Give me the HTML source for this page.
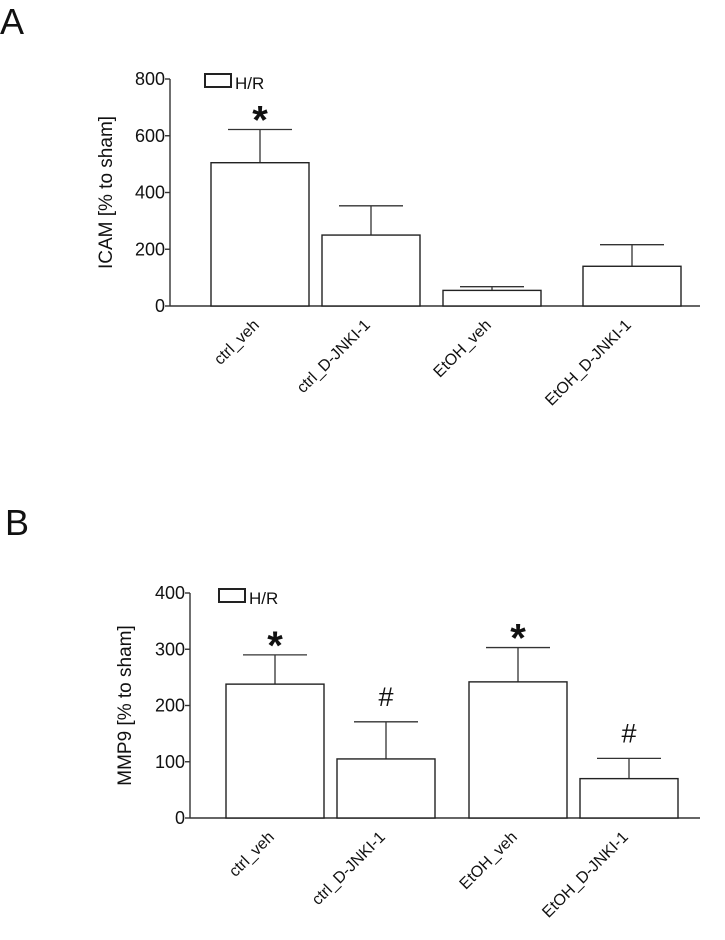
<!DOCTYPE html>
<html><head><meta charset="utf-8"><style>
body{margin:0;background:#fff;width:725px;height:935px;overflow:hidden}
svg text{font-family:"Liberation Sans",Arial,sans-serif;fill:#111}
</style></head><body>
<svg id="svg" width="725" height="935" xmlns="http://www.w3.org/2000/svg">
<text x="0" y="34" font-size="36">A</text>
<text x="5" y="535" font-size="36">B</text>
</svg>
<script>
const categories = ["ctrl_veh","ctrl_D-JNKI-1","EtOH_veh","EtOH_D-JNKI-1"];
const icamValues = [505, 250, 55, 140];
const icamErrors = [117, 103, 13, 76];
const icamMarks = ["*", "", "", ""];
const icamTicks = [0, 200, 400, 600, 800];
const mmpValues = [238, 105, 242, 70];
const mmpErrors = [52, 66, 61, 36];
const mmpMarks = ["*", "#", "*", "#"];
const mmpTicks = [0, 100, 200, 300, 400];

const NS = "http://www.w3.org/2000/svg";
const svg = document.getElementById('svg');
function mk(tag, attrs, parent){const e=document.createElementNS(NS,tag);for(const k in attrs)e.setAttribute(k,attrs[k]);(parent||svg).appendChild(e);return e;}

function chart(cfg){
  const g = mk('g',{});
  
  
  const ymax = cfg.ticks[cfg.ticks.length-1];
  const y = v => cfg.y0 - (v/ymax)*(cfg.y0-cfg.y1);
  const ax = mk('line',{x1:cfg.ax,y1:cfg.y1,x2:cfg.ax,y2:cfg.y0,stroke:'#333','stroke-width':1.4},g);
  
  
  const xa = mk('line',{x1:cfg.ax,y1:cfg.y0,x2:cfg.xend,y2:cfg.y0,stroke:'#333','stroke-width':1.4},g);
  
  
  cfg.ticks.forEach(t=>{
    mk('line',{x1:cfg.ax-5,y1:y(t),x2:cfg.ax,y2:y(t),stroke:'#333','stroke-width':1.4},g);
    const tx = mk('text',{x:cfg.ax-5,y:y(t)+6,'font-size':18,'text-anchor':'end'},g);
    tx.textContent = t;
    
    
  });
  const yt = mk('text',{x:0,y:0,'font-size':19,'text-anchor':'middle',transform:`translate(${cfg.titleX},${(cfg.y0+cfg.y1)/2}) rotate(-90)`},g);
  yt.textContent = cfg.title;
  
  
  categories.forEach((c,i)=>{
    const x0 = cfg.barX[i], w = 98, cx = x0 + w/2;
    const top = y(cfg.values[i]), etop = y(cfg.values[i]+cfg.errors[i]);
    mk('line',{x1:cx,y1:top,x2:cx,y2:etop,stroke:'#333','stroke-width':1.3},g);
    mk('line',{x1:cx-32,y1:etop,x2:cx+32,y2:etop,stroke:'#333','stroke-width':1.3},g);
    const b = mk('rect',{x:x0,y:top,width:w,height:cfg.y0-top,fill:'#fff',stroke:'#222','stroke-width':1.4},g);
    
    
    if(cfg.marks[i]){
      const star = cfg.marks[i]==='*';
      const m = mk('text',{x:cx,y:star?etop+4:etop-16,'font-size':star?40:27,'text-anchor':'middle','font-weight':star?'bold':'normal'},g);
      m.textContent = cfg.marks[i];
      
      
    }
    const lb = mk('text',{x:0,y:0,'font-size':16,'text-anchor':'end',transform:`translate(${cx},${cfg.y0+20}) rotate(-45)`},g);
    lb.textContent = c;
    
    
  });
  const lg = mk('rect',{x:cfg.legX,y:cfg.legY,width:26,height:13,fill:'#fff',stroke:'#222','stroke-width':2},g);
  
  
  const lt = mk('text',{x:cfg.legX+30,y:cfg.legY+15,'font-size':17},g);
  lt.textContent = 'H/R';
  
  
}
chart({name:'icam-chart',ax:170,y0:306,y1:79,xend:700,ticks:icamTicks,values:icamValues,errors:icamErrors,marks:icamMarks,barX:[211,322,443,583],title:'ICAM [% to sham]',titleX:112,legX:205,legY:74});
chart({name:'mmp9-chart',ax:190,y0:818,y1:593,xend:700,ticks:mmpTicks,values:mmpValues,errors:mmpErrors,marks:mmpMarks,barX:[226,337,469,580],title:'MMP9 [% to sham]',titleX:131,legX:219,legY:589});
</script>
</body></html>
